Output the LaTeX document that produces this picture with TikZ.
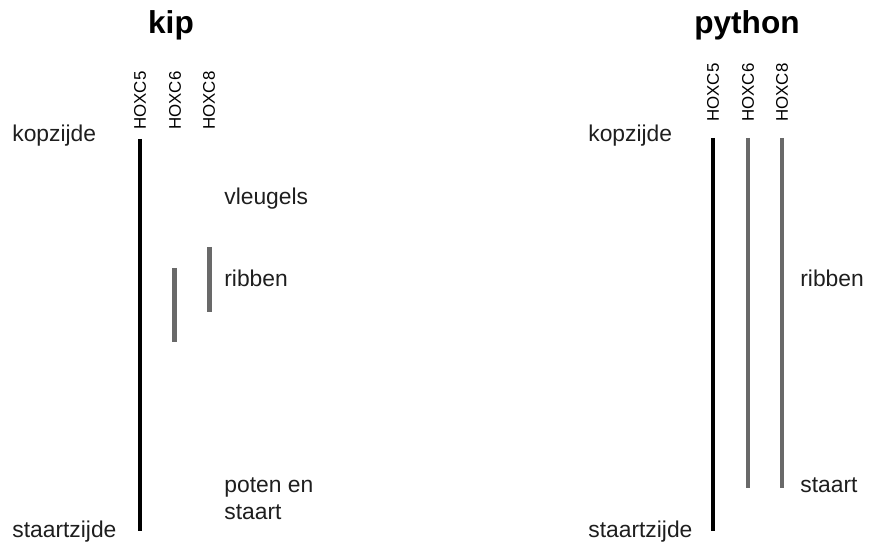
\documentclass[tikz,border=0pt]{standalone}
\usepackage{fontspec}
\setmainfont{Liberation Sans}
\usepackage{tikz}
\usetikzlibrary{positioning}
\definecolor{barblack}{RGB}{0,0,0}
\definecolor{bargray}{RGB}{105,105,105}
\definecolor{textgray}{RGB}{30,30,30}

\begin{document}
\begin{tikzpicture}[x=0.02cm, y=-0.02cm, every node/.style={font=\fontsize{13}{15}\selectfont, text=textgray, inner sep=0pt}]
% Hox expression along the body axis: chicken (kip) vs python
\useasboundingbox (0,0) rectangle (870,544);

\tikzset{
  gene/.style={rotate=90, anchor=west, font=\fontsize{9.6}{11}\selectfont, text=black},
  title/.style={font=\fontsize{18}{20}\selectfont\bfseries, text=black},
  hoxmain/.style={line width=5pt*0.567, barblack},
  hoxside/.style={line width=5pt*0.567, bargray}
}

% Titles
\node[title] (kip) at (171, 25) {kip};
\node[title] (python) at (747, 25) {python};

% Gene labels (kip)
\node[gene] (k5) at (140, 130) {HOXC5};
\node[gene] (k6) at (175, 130) {HOXC6};
\node[gene] (k8) at (209, 130) {HOXC8};

% Gene labels (python)
\node[gene] (p5) at (713, 122) {HOXC5};
\node[gene] (p6) at (748, 122) {HOXC6};
\node[gene] (p8) at (782, 122) {HOXC8};

% Axis ends
\node[anchor=base west] (kkop) at (12, 142) {kopzijde};
\node[anchor=base west] (kstaart) at (12, 537) {staartzijde};
\node[anchor=base west] (pkop) at (588, 142) {kopzijde};
\node[anchor=base west] (pstaart) at (588, 537) {staartzijde};

% Body regions (kip)
\node[anchor=base west] (vleugels) at (224, 205) {vleugels};
\node[anchor=base west] (kribben) at (224, 287) {ribben};
\node[anchor=base west] (poten) at (224, 492) {poten en};
\node[anchor=base west] (kstaartr) at (224, 519) {staart};

% Body regions (python)
\node[anchor=base west] (pribben) at (800, 287) {ribben};
\node[anchor=base west] (pstaartr) at (800, 492) {staart};

% Expression domains (kip)
\coordinate (k5a) at (140, 139);  \coordinate (k5b) at (140, 531);
\coordinate (k6a) at (174.5, 268); \coordinate (k6b) at (174.5, 342);
\coordinate (k8a) at (209.5, 247); \coordinate (k8b) at (209.5, 312);
\draw[hoxmain] (k5a) -- (k5b);
\draw[hoxside] (k6a) -- (k6b);
\draw[hoxside] (k8a) -- (k8b);

% Expression domains (python)
\coordinate (p5a) at (713, 138); \coordinate (p5b) at (713, 531);
\coordinate (p6a) at (748, 138); \coordinate (p6b) at (748, 488);
\coordinate (p8a) at (782, 138); \coordinate (p8b) at (782, 488);
\draw[hoxmain] (p5a) -- (p5b);
\draw[hoxside] (p6a) -- (p6b);
\draw[hoxside] (p8a) -- (p8b);

\end{tikzpicture}
\end{document}
